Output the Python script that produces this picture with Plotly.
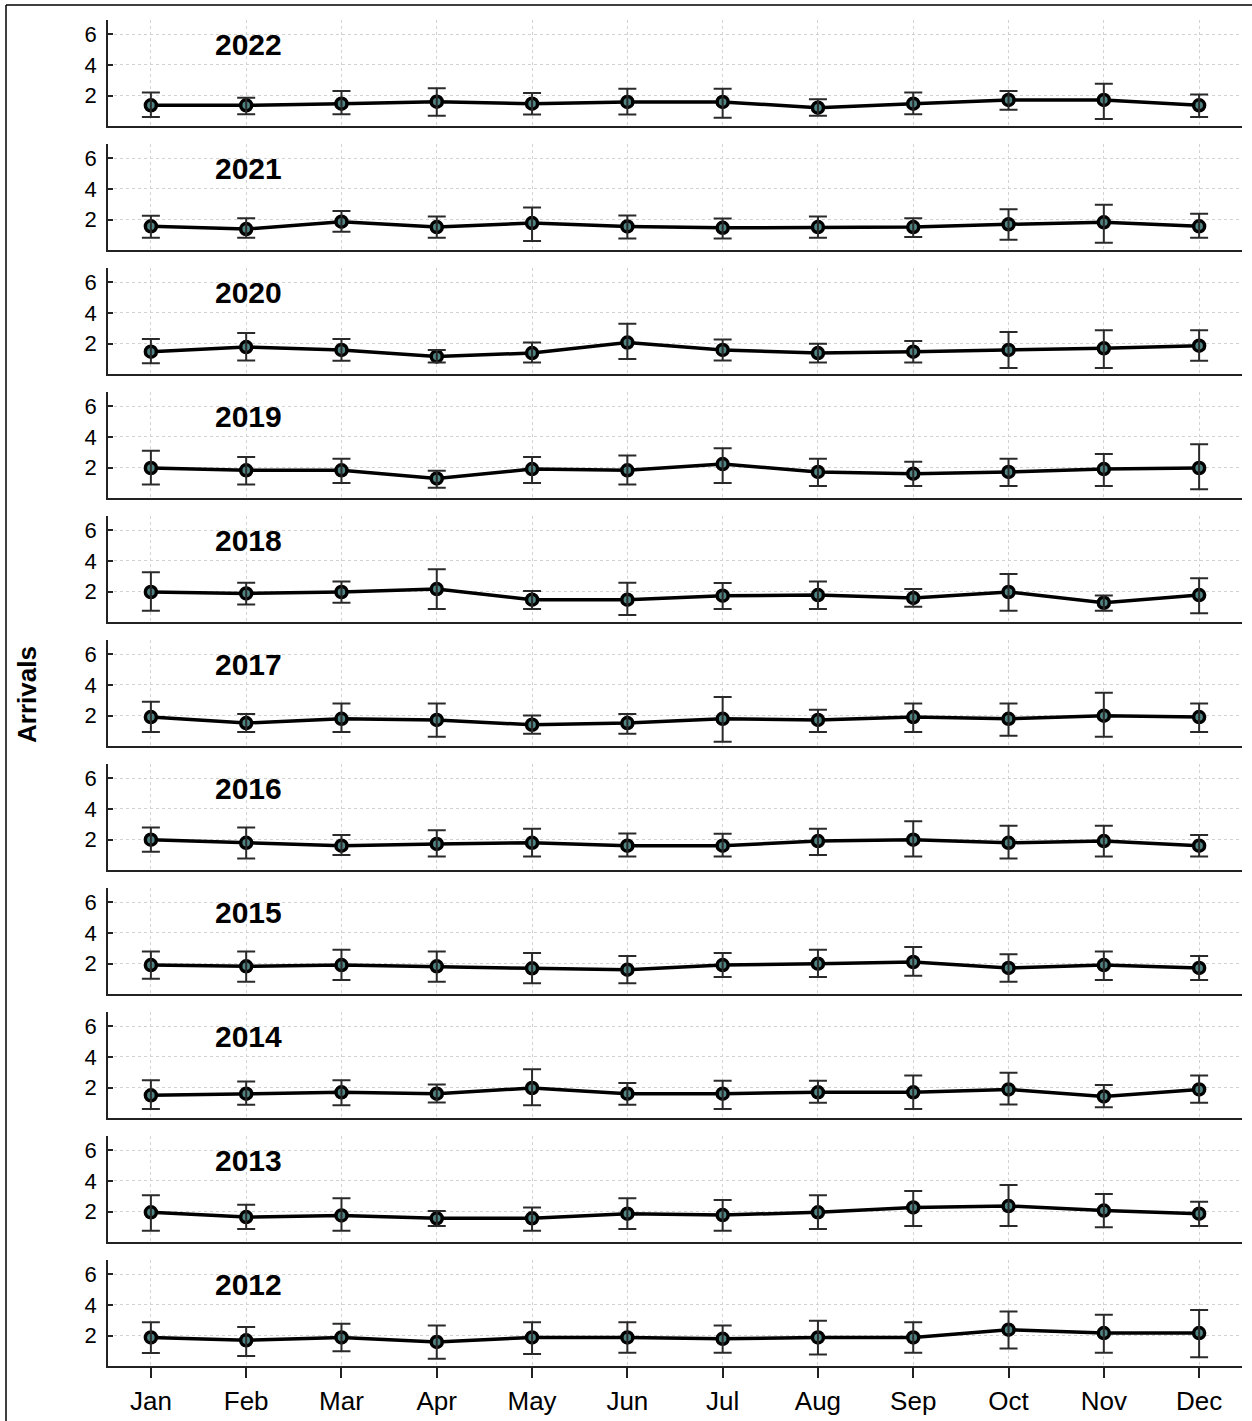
import plotly.graph_objects as go

months = ["Jan", "Feb", "Mar", "Apr", "May", "Jun", "Jul", "Aug", "Sep", "Oct", "Nov", "Dec"]
years = ["2022", "2021", "2020", "2019", "2018", "2017", "2016", "2015", "2014", "2013", "2012"]
y_ticks = [2, 4, 6]

mean_2022 = [1.37, 1.37, 1.48, 1.61, 1.48, 1.59, 1.59, 1.22, 1.48, 1.72, 1.72, 1.37]
upper_2022 = [2.20, 1.87, 2.31, 2.48, 2.17, 2.46, 2.46, 1.77, 2.20, 2.31, 2.78, 2.07]
lower_2022 = [0.61, 0.79, 0.79, 0.70, 0.78, 0.78, 0.57, 0.70, 0.79, 1.09, 0.48, 0.61]

mean_2021 = [1.57, 1.39, 1.87, 1.52, 1.78, 1.56, 1.47, 1.52, 1.52, 1.70, 1.83, 1.57]
upper_2021 = [2.26, 2.09, 2.57, 2.20, 2.80, 2.27, 2.07, 2.20, 2.09, 2.68, 2.98, 2.39]
lower_2021 = [0.83, 0.83, 1.22, 0.83, 0.62, 0.78, 0.78, 0.83, 0.87, 0.70, 0.50, 0.83]

mean_2020 = [1.48, 1.78, 1.59, 1.17, 1.39, 2.07, 1.59, 1.39, 1.48, 1.59, 1.70, 1.87]
upper_2020 = [2.30, 2.70, 2.30, 1.59, 2.07, 3.30, 2.28, 2.00, 2.17, 2.76, 2.87, 2.87]
lower_2020 = [0.72, 0.91, 0.89, 0.78, 0.78, 1.00, 0.91, 0.78, 0.78, 0.41, 0.41, 0.89]

mean_2019 = [1.98, 1.83, 1.83, 1.30, 1.91, 1.83, 2.24, 1.72, 1.61, 1.72, 1.91, 1.98]
upper_2019 = [3.11, 2.70, 2.59, 1.80, 2.70, 2.80, 3.26, 2.59, 2.39, 2.59, 2.89, 3.52]
lower_2019 = [0.91, 0.91, 1.00, 0.70, 1.00, 0.91, 1.00, 0.80, 0.80, 0.80, 0.80, 0.59]

mean_2018 = [1.98, 1.89, 1.98, 2.17, 1.48, 1.48, 1.74, 1.78, 1.59, 1.98, 1.28, 1.78]
upper_2018 = [3.26, 2.59, 2.67, 3.46, 2.04, 2.59, 2.57, 2.67, 2.17, 3.15, 1.76, 2.87]
lower_2018 = [0.76, 1.17, 1.28, 0.87, 0.87, 0.48, 0.87, 0.87, 1.02, 0.76, 0.76, 0.59]

mean_2017 = [1.91, 1.52, 1.80, 1.72, 1.41, 1.52, 1.80, 1.72, 1.91, 1.80, 2.00, 1.91]
upper_2017 = [2.91, 2.11, 2.80, 2.80, 2.02, 2.11, 3.22, 2.39, 2.80, 2.80, 3.50, 2.80]
lower_2017 = [0.93, 0.93, 0.93, 0.63, 0.83, 0.83, 0.30, 0.93, 0.93, 0.70, 0.63, 0.93]

mean_2016 = [2.00, 1.80, 1.61, 1.72, 1.80, 1.61, 1.61, 1.91, 2.00, 1.80, 1.91, 1.61]
upper_2016 = [2.80, 2.80, 2.30, 2.61, 2.72, 2.41, 2.39, 2.72, 3.20, 2.91, 2.91, 2.30]
lower_2016 = [1.22, 0.78, 1.00, 0.91, 0.91, 0.91, 0.91, 1.00, 0.91, 0.78, 0.91, 0.91]

mean_2015 = [1.91, 1.83, 1.91, 1.83, 1.70, 1.61, 1.91, 2.00, 2.11, 1.72, 1.91, 1.72]
upper_2015 = [2.80, 2.80, 2.91, 2.80, 2.70, 2.50, 2.70, 2.91, 3.09, 2.61, 2.80, 2.50]
lower_2015 = [1.02, 0.83, 0.93, 0.83, 0.72, 0.72, 1.13, 1.13, 1.22, 0.83, 0.93, 0.93]

mean_2014 = [1.50, 1.61, 1.70, 1.61, 1.98, 1.61, 1.61, 1.70, 1.70, 1.89, 1.43, 1.89]
upper_2014 = [2.48, 2.41, 2.48, 2.20, 3.20, 2.30, 2.46, 2.46, 2.80, 2.98, 2.17, 2.80]
lower_2014 = [0.61, 0.89, 0.85, 1.04, 0.85, 0.89, 0.61, 1.02, 0.61, 0.91, 0.72, 1.02]

mean_2013 = [1.96, 1.65, 1.76, 1.57, 1.57, 1.87, 1.78, 1.96, 2.28, 2.37, 2.07, 1.87]
upper_2013 = [3.07, 2.46, 2.87, 2.04, 2.28, 2.87, 2.76, 3.07, 3.35, 3.74, 3.15, 2.65]
lower_2013 = [0.76, 0.87, 0.76, 1.07, 0.76, 0.87, 0.76, 0.87, 1.07, 1.07, 0.98, 1.07]

mean_2012 = [1.89, 1.70, 1.89, 1.59, 1.89, 1.89, 1.80, 1.89, 1.89, 2.39, 2.17, 2.17]
upper_2012 = [2.87, 2.57, 2.78, 2.67, 2.87, 2.87, 2.67, 2.98, 2.87, 3.57, 3.37, 3.67]
lower_2012 = [0.87, 0.67, 0.98, 0.50, 0.80, 0.89, 0.89, 0.78, 0.89, 1.17, 0.89, 0.59]

series = {
    "2022": (mean_2022, upper_2022, lower_2022),
    "2021": (mean_2021, upper_2021, lower_2021),
    "2020": (mean_2020, upper_2020, lower_2020),
    "2019": (mean_2019, upper_2019, lower_2019),
    "2018": (mean_2018, upper_2018, lower_2018),
    "2017": (mean_2017, upper_2017, lower_2017),
    "2016": (mean_2016, upper_2016, lower_2016),
    "2015": (mean_2015, upper_2015, lower_2015),
    "2014": (mean_2014, upper_2014, lower_2014),
    "2013": (mean_2013, upper_2013, lower_2013),
    "2012": (mean_2012, upper_2012, lower_2012),
}

W, H = 1252, 1421
FONT = "Liberation Sans, Arial, sans-serif"
X_LEFT, X_RIGHT = 108, 1242
TOP0, PANEL_H, STEP = 20, 106.4, 124
AXIS_COL = "#222222"
GRID_COL = "#d2d2d2"

fig = go.Figure()
layout = {}
annotations = []

for i, yr in enumerate(years):
    n = i + 1
    xa = "x" if n == 1 else f"x{n}"
    ya = "y" if n == 1 else f"y{n}"
    m, up, lo = series[yr]
    fig.add_trace(go.Scatter(
        x=months, y=m, mode="lines+markers", xaxis=xa, yaxis=ya,
        line=dict(color="black", width=3.5),
        marker=dict(size=11, color="#4f8483", line=dict(color="black", width=3.5)),
        showlegend=False, hoverinfo="skip"))
    fig.add_trace(go.Scatter(
        x=months, y=m, mode="markers", xaxis=xa, yaxis=ya,
        marker=dict(size=2, opacity=0),
        error_y=dict(type="data", symmetric=False,
                     array=[u - v for u, v in zip(up, m)],
                     arrayminus=[v - l for v, l in zip(m, lo)],
                     color="#2a2a2a", thickness=2, width=9),
        showlegend=False, hoverinfo="skip"))

    top = TOP0 + STEP * i
    bot = top + PANEL_H
    last = (i == len(years) - 1)
    layout["xaxis" if n == 1 else f"xaxis{n}"] = dict(
        domain=[X_LEFT / W, X_RIGHT / W], anchor=ya,
        type="category", categoryorder="array", categoryarray=months,
        range=[-0.45, 11.45],
        showgrid=True, gridcolor=GRID_COL, griddash="dot", gridwidth=1,
        showline=True, linecolor=AXIS_COL, linewidth=2, zeroline=False,
        showticklabels=last, ticks="outside" if last else "",
        ticklen=10, tickwidth=1.5, tickcolor=AXIS_COL,
        tickfont=dict(family=FONT, size=26, color="black"),
        fixedrange=True)
    layout["yaxis" if n == 1 else f"yaxis{n}"] = dict(
        domain=[1 - bot / H, 1 - top / H], anchor=xa,
        range=[0, 6.93], tickvals=y_ticks,
        showgrid=True, gridcolor=GRID_COL, griddash="dot", gridwidth=1,
        showline=True, linecolor=AXIS_COL, linewidth=1.5, zeroline=False,
        ticks="inside", ticklen=5, tickwidth=1.5, tickcolor=AXIS_COL,
        ticklabelstandoff=5,
        tickfont=dict(family=FONT, size=22, color="black"),
        fixedrange=True)
    annotations.append(dict(
        text=yr, xref=f"{xa} domain", yref=f"{ya} domain",
        x=0.124, y=0.768, xanchor="center", yanchor="middle", showarrow=False,
        font=dict(family=FONT, size=30, color="black", weight="bold")))

annotations.append(dict(
    text="Arrivals", xref="paper", yref="paper", x=27 / W, y=1 - 695 / H,
    xanchor="center", yanchor="middle", textangle=-90, showarrow=False,
    font=dict(family=FONT, size=26, color="black", weight="bold")))

shapes = [
    dict(type="line", xref="paper", yref="paper", x0=6 / W, x1=6 / W, y0=0, y1=1 - 5 / H,
         line=dict(color="black", width=1.5)),
    dict(type="line", xref="paper", yref="paper", x0=6 / W, x1=1, y0=1 - 5 / H, y1=1 - 5 / H,
         line=dict(color="black", width=1.5)),
]

fig.update_layout(
    width=W, height=H, autosize=False,
    margin=dict(l=0, r=0, t=0, b=0),
    paper_bgcolor="white", plot_bgcolor="white",
    font=dict(family=FONT, color="black"),
    annotations=annotations, shapes=shapes, showlegend=False,
    **layout)

fig.write_html("out.html", config={"displayModeBar": False},
               post_script="document.body.style.margin='0';")
